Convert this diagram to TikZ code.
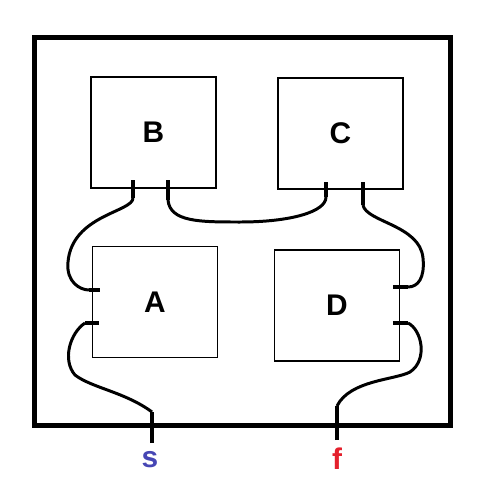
\documentclass[tikz,border=0pt]{standalone}
\usepackage{fontspec}
\setmainfont{Liberation Sans}
\usepackage{tikz}
\usetikzlibrary{positioning}
\definecolor{sblue}{RGB}{70,70,180}
\definecolor{fred}{RGB}{228,32,44}
\tikzset{
  frm/.style={draw=black,line width=2.9pt},
  blk/.style={rectangle,draw=black,line width=1.1pt,minimum width=2.5cm,minimum height=2.22cm,inner sep=0pt,font=\fontsize{17}{20}\selectfont\bfseries},
  wire/.style={draw=black,line width=1.7pt},
  stb/.style={draw=black,line width=2.1pt},
  pin/.style={font=\fontsize{17}{20}\selectfont\bfseries,inner sep=0pt},
}

\begin{document}
\begin{tikzpicture}[x=0.02cm,y=-0.02cm]
\useasboundingbox (0,0) rectangle (482,488);
% ---- enclosure
\draw[frm] (34.5,37.5) rectangle (450.5,425.5);
% ---- blocks
\node[blk] (B) at (153.5,132.5) {B};
\node[blk] (C) at (340.5,133.5) {C};
\node[blk] (A) at (155,302) {A};
\node[blk] (D) at (337,305.5) {D};
% ---- pins (inner end, outer end)
\coordinate (b1i) at (133,180); \coordinate (b1o) at (133,198);
\coordinate (b2i) at (168,180); \coordinate (b2o) at (168,200);
\coordinate (c1i) at (326,182); \coordinate (c1o) at (326,197);
\coordinate (c2i) at (363,182); \coordinate (c2o) at (363,205);
\coordinate (a1i) at (100,290); \coordinate (a1o) at (89,290);
\coordinate (a2i) at (99,323);  \coordinate (a2o) at (85,323);
\coordinate (d1i) at (393,287); \coordinate (d1o) at (408,287);
\coordinate (d2i) at (393,323); \coordinate (d2o) at (408,323);
\coordinate (si) at (152,443);  \coordinate (so) at (152,412);
\coordinate (fi) at (337,440);  \coordinate (fo) at (337,406);
\draw[stb] (b1i)--(b1o) (b2i)--(b2o) (c1i)--(c1o) (c2i)--(c2o);
\draw[stb] (a1i)--(a1o) (a2i)--(a2o) (d1i)--(d1o) (d2i)--(d2o);
\draw[stb] (si)--(so) (fi)--(fo);
% ---- terminals
\node[pin,text=sblue] (s) at (150,460) {s};
\node[pin,text=fred] (f) at (337,459) {f};
% ---- wires
\draw[wire] (b1o) .. controls (133,212) and (72,215) .. (68,262)
  .. controls (66,282) and (80,290) .. (a1o);
\draw[wire] (b2o) .. controls (170,222) and (200,222) .. (240,222)
  .. controls (290,222) and (326,212) .. (c1o);
\draw[wire] (c2o) .. controls (366,222) and (420,225) .. (423,258)
  .. controls (425,278) and (418,287) .. (d1o);
\draw[wire] (a2o) .. controls (70,333) and (62,360) .. (75,375)
  .. controls (92,388) and (125,392) .. (so);
\draw[wire] (d2o) .. controls (422,330) and (428,360) .. (410,372)
  .. controls (395,380) and (350,380) .. (fo);
\end{tikzpicture}
\end{document}
